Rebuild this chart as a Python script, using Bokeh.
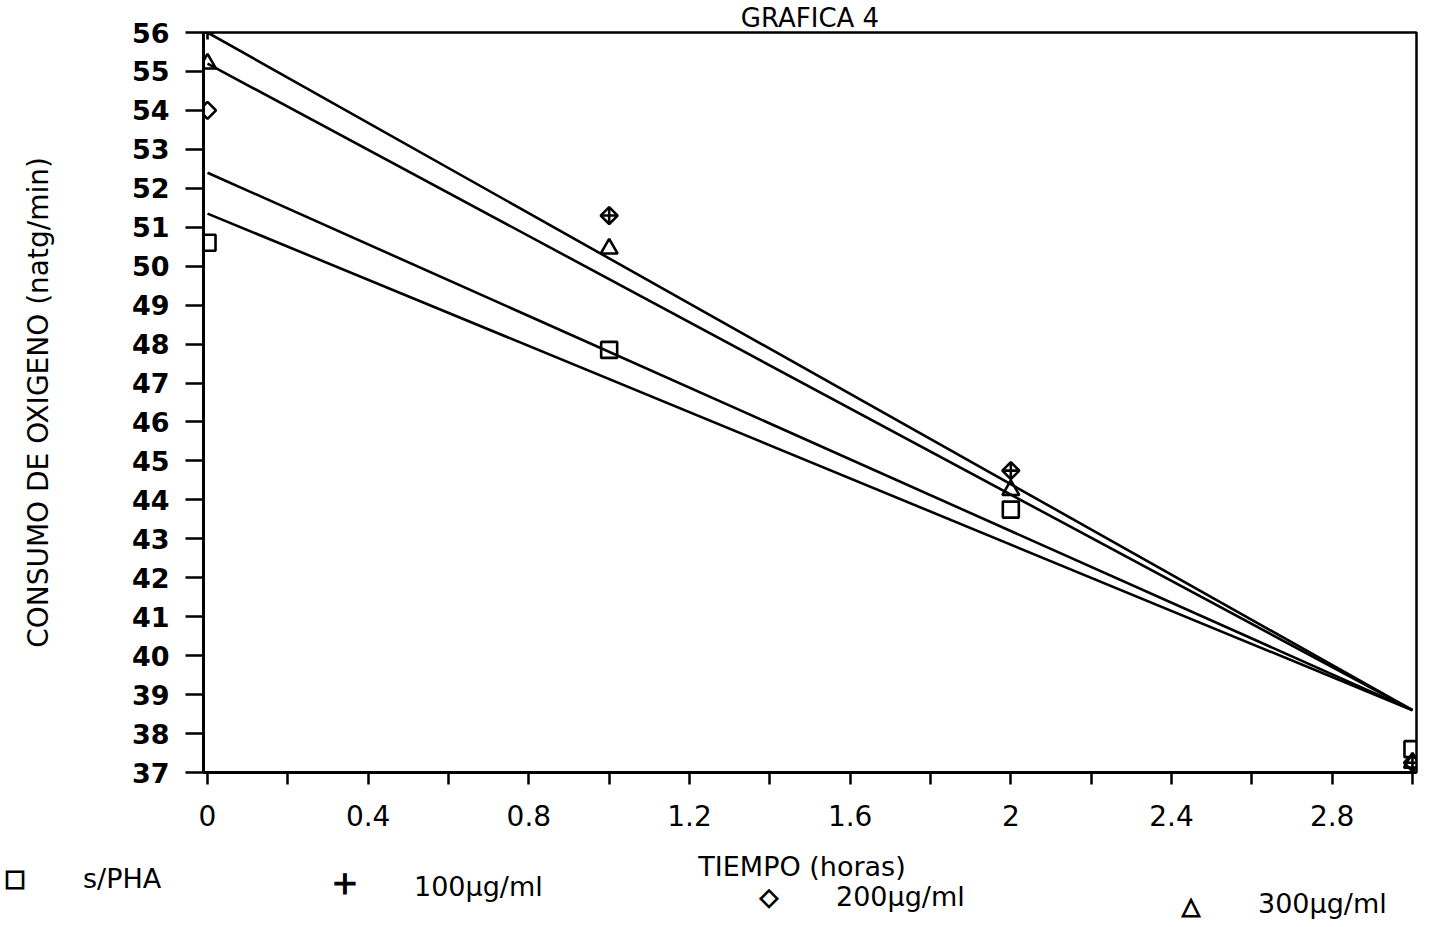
import math
from bokeh.plotting import figure
from bokeh.layouts import column
from bokeh.models import Range1d, FixedTicker, Div
from bokeh.embed import file_html
from bokeh.resources import INLINE

# ---- data ----
t = [0, 1, 2, 3]
s_pha = [50.6, 47.85, 43.75, 37.6]
pha_100 = [56.0, 51.3, 44.75, 37.25]
pha_200 = [54.0, 51.3, 44.75, 37.25]
pha_300 = [55.2, 50.45, 44.25, 37.25]

fit_t = [0, 3]
fit_1 = [56.0, 38.6]
fit_2 = [55.2, 38.6]
fit_3 = [52.4, 38.6]
fit_4 = [51.35, 38.6]

x_ticks = [0, 0.4, 0.8, 1.2, 1.6, 2, 2.4, 2.8]
x_tick_labels = ["0", "0.4", "0.8", "1.2", "1.6", "2", "2.4", "2.8"]
x_minor = [0.2, 0.6, 1.0, 1.4, 1.8, 2.2, 2.6, 3.0]
y_ticks = list(range(37, 57))

legend_symbols = ["\u25a1", "+", "\u25c7", "\u25b3"]
legend_labels = ["s/PHA", "100\u03bcg/ml", "200\u03bcg/ml", "300\u03bcg/ml"]

FONT = "DejaVu Sans"
W, H = 1433, 927
H1 = 850
FL, FT, FR = 203, 24, 17
FB = H1 - 772

p = figure(width=W, height=H1, x_range=Range1d(-0.01, 3.01), y_range=Range1d(37, 56),
           output_backend="svg", toolbar_location=None,
           min_border_left=FL, min_border_right=FR, min_border_top=FT, min_border_bottom=FB)
p.background_fill_color = "white"
p.border_fill_color = "white"
p.outline_line_color = "black"
p.outline_line_width = 2.5
p.grid.visible = False

p.title.text = "GRAFICA 4"
p.title.align = "center"
p.title.offset = 19
p.title.standoff = 0
p.title.text_font = FONT
p.title.text_font_size = "26px"
p.title.text_line_height = 0.85
p.title.text_font_style = "normal"
p.title.text_color = "black"

# axes
p.xaxis.ticker = FixedTicker(ticks=x_ticks, minor_ticks=x_minor)
p.xaxis.major_label_overrides = {v: s for v, s in zip(x_ticks, x_tick_labels)}
p.yaxis.ticker = FixedTicker(ticks=y_ticks)
for ax in (p.xaxis, p.yaxis):
    ax.axis_line_width = 3
    ax.axis_line_color = "black"
    ax.major_tick_line_width = 2.5
    ax.minor_tick_line_width = 2.5
    ax.major_tick_line_color = "black"
    ax.minor_tick_line_color = "black"
    ax.major_tick_in = 0
    ax.minor_tick_in = 0
    ax.major_label_text_font = FONT
    ax.major_label_text_color = "black"
p.xaxis.major_tick_out = 12
p.xaxis.minor_tick_out = 12
p.xaxis.major_label_standoff = 20
p.xaxis.major_label_text_font_size = "28px"
p.yaxis.major_tick_out = 18
p.yaxis.minor_tick_line_color = None
p.yaxis.major_label_standoff = 16
p.yaxis.major_label_text_font_size = "27px"
p.yaxis.major_label_text_font_style = "bold"
p.yaxis.axis_label = "CONSUMO DE OXIGENO (natg/min)"
p.yaxis.axis_label_standoff = 74
p.yaxis.axis_label_text_font = FONT
p.yaxis.axis_label_text_font_size = "28px"
p.yaxis.axis_label_text_font_style = "normal"
p.yaxis.axis_label_text_color = "black"

# fitted lines
for fy in (fit_1, fit_2, fit_3, fit_4):
    p.line(fit_t, fy, line_color="black", line_width=2.6)

# markers
p.scatter(t, s_pha, marker="square", size=16, fill_color=None, line_color="black", line_width=2.6)
p.scatter(t, pha_100, marker="cross", size=14, line_color="black", line_width=2.6)
p.scatter(t, pha_200, marker="square", angle=math.pi / 4, size=12, fill_color=None,
          line_color="black", line_width=2.6)
p.scatter(t, pha_300, marker="triangle", size=17, fill_color=None, line_color="black", line_width=2.6)

# ---- lower strip: x-axis title and legend row ----
def span(text, x, ytop, size, center=False, extra=""):
    tx = "-50%" if center else "0"
    return ('<span style="position:absolute;left:%dpx;top:%dpx;transform:translate(%s,-50%%);'
            'font-size:%s;white-space:nowrap;line-height:1;%s">%s</span>'
            % (x, ytop - H1, tx, size, extra, text))

sym_pos = [(10, 873, "23px"), (340, 878, "32px"), (764, 892, "24px"), (1186, 901, "24px")]
lab_pos = [(78, 873), (409, 881), (831, 891), (1253, 898)]
sym_extra = "-webkit-text-stroke:1.2px black;"

html = span("TIEMPO (horas)", 797, 861, "27px", center=True)
for sym, (sx, sy, ss) in zip(legend_symbols, sym_pos):
    html += span(sym, sx, sy, ss, center=True, extra=sym_extra)
for lab, (lx, ly) in zip(legend_labels, lab_pos):
    html += span(lab, lx, ly, "27px")

strip = Div(text='<div style="position:relative;width:%dpx;height:%dpx;font-family:\'%s\';'
                 'color:black;background:white;">%s</div>' % (W, H - H1, FONT, html),
            width=W, height=H - H1)

open("out.html", "w").write(file_html(column(p, strip, spacing=0), INLINE))
